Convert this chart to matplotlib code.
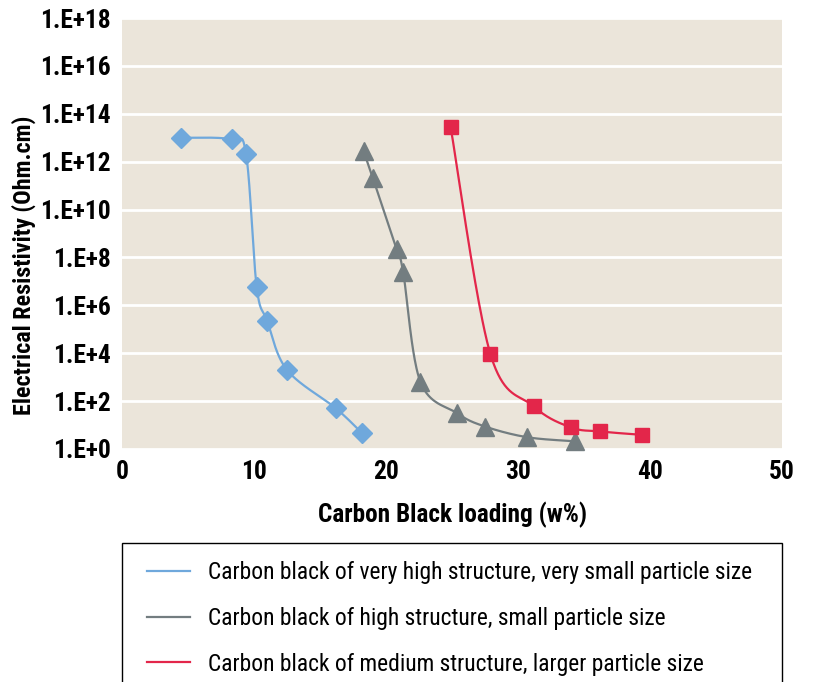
import numpy as np
import matplotlib.pyplot as plt
from matplotlib import font_manager
from matplotlib.patches import Rectangle

# data (x = carbon black loading w%, y = resistivity Ohm.cm)
x_blue = [4.5, 8.3, 9.4, 10.2, 11.0, 12.5, 16.2, 18.2]
y_blue = [1.0e13, 8.5e12, 2.0e12, 6.0e6, 2.2e5, 2.0e3, 50, 4.5]

x_gray = [18.3, 19.0, 20.8, 21.3, 22.6, 25.4, 27.5, 30.7, 34.3]
y_gray = [2.8e12, 2.1e11, 2.2e8, 2.4e7, 650, 31, 8.7, 3.1, 2.1]

x_red = [24.9, 27.9, 31.2, 34.0, 36.2, 39.4]
y_red = [2.7e13, 9.6e3, 60, 8.0, 5.4, 3.9]

labels = ['Carbon black of very high structure, very small particle size',
          'Carbon black of high structure, small particle size',
          'Carbon black of medium structure, larger particle size']
colors = ['#6fa8dc', '#737d80', '#e3264a']
markers = ['D', '^', 's']
msizes = [10, 13, 10.5]

y_exp = list(range(0, 19, 2))

# pick a narrow font if one is around
installed = {f.name for f in font_manager.fontManager.ttflist}
narrow = [f for f in ['Roboto Condensed', 'Liberation Sans Narrow',
                      'Open Sans Condensed', 'Arial Narrow'] if f in installed]
if narrow:
    fam = narrow[0]
    k = 1.0
else:
    fam = 'Roboto' if 'Roboto' in installed else 'Liberation Sans'
    k = 0.87
plt.rcParams['font.family'] = [fam, 'DejaVu Sans']


def smooth(xs, ys, n=40):
    # excel-like smoothed line: bezier segments in (x, log y) space
    p = np.column_stack([np.asarray(xs, float), np.log10(ys)])
    p = np.vstack([p[0], p, p[-1]])
    out = []
    for i in range(1, len(p) - 2):
        p0, p1, p2, p3 = p[i - 1], p[i], p[i + 1], p[i + 2]
        c1 = p1 + (p2 - p0) / 6
        c2 = p2 - (p3 - p1) / 6
        t = np.linspace(0, 1, n)[:, None]
        seg = ((1 - t) ** 3 * p1 + 3 * (1 - t) ** 2 * t * c1
               + 3 * (1 - t) * t ** 2 * c2 + t ** 3 * p2)
        out.append(seg)
    s = np.vstack(out)
    return s[:, 0], 10 ** s[:, 1]


W, H = 814, 682
fig = plt.figure(figsize=(W / 100, H / 100), dpi=100)
ax = fig.add_axes([122 / W, 1 - 449 / H, 660 / W, 431 / H])
ax.set_facecolor('#ebe5da')

series = [(x_blue, y_blue), (x_gray, y_gray), (x_red, y_red)]
handles = []
for (xs, ys), c, m, ms, lab in zip(series, colors, markers, msizes, labels):
    sx, sy = smooth(xs, ys)
    h, = ax.plot(sx, sy, color=c, lw=1.6, label=lab, zorder=3)
    ax.plot(xs, ys, ls='none', marker=m, ms=ms, color=c, zorder=4,
            clip_on=False)
    handles.append(h)

ax.set_yscale('log')
ax.set_ylim(1, 1e18)
ax.set_xlim(0, 50)
ax.set_yticks([10.0 ** e for e in y_exp])
ax.set_yticklabels([f'1.E+{e}' for e in y_exp])
ax.minorticks_off()
ax.set_xticks(range(0, 51, 10))
ax.grid(axis='y', color='white', lw=2, zorder=1)
ax.set_axisbelow(True)
for s in ax.spines.values():
    s.set_visible(False)
ax.tick_params(length=0, labelsize=18.4 * k, pad=8)
for t in ax.get_xticklabels() + ax.get_yticklabels():
    t.set_fontweight('bold')

ax.set_xlabel('Carbon Black loading (w%)', fontsize=18.2 * k,
              fontweight='bold', labelpad=13)
ax.set_ylabel('Electrical Resistivity (Ohm.cm)', fontsize=17.4 * k,
              fontweight='bold')
ax.yaxis.set_label_coords((36 - 122) / 660, (449 - 265) / 431)

# legend box runs off the bottom of the picture
fig.patches.append(Rectangle((122 / W, -0.05), 660 / W, 0.05 + 1 - 543 / H,
                             transform=fig.transFigure, facecolor='white',
                             edgecolor='black', lw=1.0))
leg = fig.legend(handles=handles, loc='upper left',
                 bbox_to_anchor=(147 / W, 1 - 561 / H),
                 fontsize=16.9 * k, frameon=False, handlelength=1.83,
                 handletextpad=0.77, labelspacing=0.97, borderpad=0,
                 borderaxespad=0)

fig.savefig('out.png', dpi=100)
